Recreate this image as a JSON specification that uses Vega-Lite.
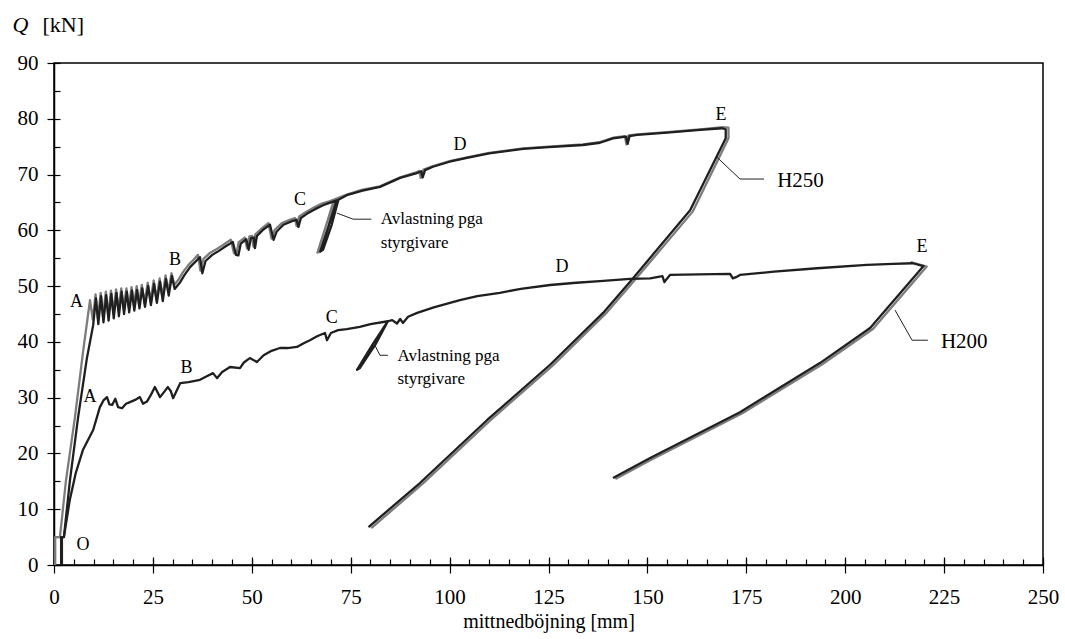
{
  "$schema": "https://vega.github.io/schema/vega-lite/v6.json",
  "width": 989,
  "height": 502,
  "autosize": {"type": "none"},
  "padding": {"left": 54, "top": 63, "right": 22, "bottom": 74},
  "background": "white",
  "config": {
    "view": {"stroke": "black", "strokeWidth": 1.5},
    "axis": {"grid": false, "domainColor": "black", "tickColor": "black", "labelColor": "black", "titleColor": "black", "labelFont": "Liberation Serif", "titleFont": "Liberation Serif", "titleFontWeight": "normal", "tickWidth": 1.2, "domainWidth": 1.5},
    "text": {"font": "Liberation Serif", "color": "black"}
  },
  "datasets": {
    "h250_dark": [
      {"i":1,"x":1.8,"y":0},{"i":2,"x":1.8,"y":5},{"i":3,"x":2.5,"y":5},{"i":4,"x":4,"y":15},{"i":5,"x":6.1,"y":26.5},{"i":6,"x":8.3,"y":37},{"i":7,"x":9.9,"y":43},
      {"i":8,"x":10.6,"y":47.8},{"i":9,"x":11.2,"y":43.2},{"i":10,"x":11.9,"y":48.2},{"i":11,"x":12.5,"y":43.5},{"i":12,"x":13.2,"y":48.4},{"i":13,"x":13.8,"y":43.8},{"i":14,"x":14.5,"y":48.6},{"i":15,"x":15.1,"y":44.2},{"i":16,"x":15.8,"y":48.8},{"i":17,"x":16.4,"y":44.6},{"i":18,"x":17.1,"y":49},{"i":19,"x":17.7,"y":45},{"i":20,"x":18.4,"y":49},{"i":21,"x":19,"y":45.3},{"i":22,"x":19.7,"y":49.2},{"i":23,"x":20.3,"y":45.6},{"i":24,"x":21,"y":49.3},{"i":25,"x":21.6,"y":46},{"i":26,"x":22.3,"y":49.6},{"i":27,"x":23,"y":46.3},{"i":28,"x":23.8,"y":50},{"i":29,"x":24.5,"y":46.6},{"i":30,"x":25.3,"y":50.4},{"i":31,"x":26,"y":47},{"i":32,"x":26.8,"y":50.8},{"i":33,"x":27.5,"y":47.3},{"i":34,"x":28.3,"y":51.3},{"i":35,"x":29,"y":48.3},{"i":36,"x":29.8,"y":51.8},{"i":37,"x":30.5,"y":49.5},
      {"i":38,"x":31.9,"y":50.7},{"i":39,"x":33,"y":52},{"i":40,"x":34.4,"y":53.4},{"i":41,"x":35.5,"y":54.2},{"i":42,"x":36.9,"y":55.2},{"i":43,"x":37.5,"y":52.3},{"i":44,"x":38.3,"y":54.5},{"i":45,"x":40,"y":55.6},{"i":46,"x":41.2,"y":56.1},{"i":47,"x":43.5,"y":57.2},{"i":48,"x":45.2,"y":57.9},{"i":49,"x":46,"y":55.6},{"i":50,"x":46.6,"y":55.5},{"i":51,"x":47.2,"y":57.6},{"i":52,"x":48.6,"y":58.4},{"i":53,"x":49.2,"y":56.5},{"i":54,"x":49.8,"y":58.6},{"i":55,"x":50.5,"y":58.7},{"i":56,"x":50.8,"y":56.8},{"i":57,"x":51.3,"y":59},{"i":58,"x":53,"y":60.2},{"i":59,"x":54.6,"y":61},{"i":60,"x":55.5,"y":58.3},{"i":61,"x":56.3,"y":59.8},{"i":62,"x":58,"y":61},{"i":63,"x":60,"y":61.6},{"i":64,"x":61.3,"y":61.9},{"i":65,"x":61.8,"y":60.6},{"i":66,"x":62.4,"y":62.2},{"i":67,"x":64,"y":63},{"i":68,"x":66,"y":63.8},{"i":69,"x":68,"y":64.5},{"i":70,"x":70,"y":65},{"i":71,"x":71.5,"y":65.4},
      {"i":72,"x":69.4,"y":60.7},{"i":73,"x":67.3,"y":56.2},{"i":74,"x":68,"y":56.5},{"i":75,"x":70.2,"y":61},{"i":76,"x":71.9,"y":65.5},
      {"i":77,"x":74,"y":66.3},{"i":78,"x":78,"y":67.1},{"i":79,"x":82.4,"y":67.8},{"i":80,"x":87.5,"y":69.4},{"i":81,"x":91.5,"y":70.2},{"i":82,"x":92.8,"y":70.6},{"i":83,"x":93.2,"y":69.5},{"i":84,"x":93.8,"y":70.8},{"i":85,"x":95.8,"y":71.4},{"i":86,"x":100,"y":72.3},{"i":87,"x":104.4,"y":73},{"i":88,"x":110,"y":73.8},{"i":89,"x":118.6,"y":74.6},{"i":90,"x":125,"y":74.9},{"i":91,"x":133.7,"y":75.3},{"i":92,"x":138,"y":75.7},{"i":93,"x":141.3,"y":76.5},{"i":94,"x":144.6,"y":76.8},{"i":95,"x":145,"y":75.5},{"i":96,"x":145.5,"y":76.9},{"i":97,"x":147.4,"y":77.1},{"i":98,"x":155,"y":77.5},{"i":99,"x":163.3,"y":78},{"i":100,"x":168.9,"y":78.3},{"i":101,"x":169.8,"y":78.1},
      {"i":102,"x":169.8,"y":76.5},{"i":103,"x":160.8,"y":63.6},{"i":104,"x":146,"y":51.1},{"i":105,"x":138.8,"y":45.2},{"i":106,"x":125.4,"y":35.9},{"i":107,"x":109.5,"y":26},{"i":108,"x":92.5,"y":14.7},{"i":109,"x":79.5,"y":6.8}
    ],
    "h250_gray": [
      {"i":1,"x":0.3,"y":0},{"i":2,"x":0.3,"y":5},{"i":3,"x":1.5,"y":5},{"i":4,"x":3,"y":15},{"i":5,"x":5.3,"y":26.5},{"i":6,"x":7.3,"y":38},{"i":7,"x":9.1,"y":47.5},
      {"i":8,"x":9.8,"y":44},{"i":9,"x":10.5,"y":48.5},{"i":10,"x":11.1,"y":44.2},{"i":11,"x":11.8,"y":48.8},{"i":12,"x":12.4,"y":44.5},{"i":13,"x":13.1,"y":49},{"i":14,"x":13.7,"y":44.8},{"i":15,"x":14.4,"y":49.2},{"i":16,"x":15,"y":45.2},{"i":17,"x":15.7,"y":49.4},{"i":18,"x":16.3,"y":45.6},{"i":19,"x":17,"y":49.6},{"i":20,"x":17.6,"y":46},{"i":21,"x":18.3,"y":49.6},{"i":22,"x":18.9,"y":46.2},{"i":23,"x":19.6,"y":49.8},{"i":24,"x":20.2,"y":46.5},{"i":25,"x":20.9,"y":50},{"i":26,"x":21.5,"y":46.8},{"i":27,"x":22.2,"y":50.2},{"i":28,"x":22.9,"y":47},{"i":29,"x":23.7,"y":50.6},{"i":30,"x":24.4,"y":47.3},{"i":31,"x":25.2,"y":51},{"i":32,"x":25.9,"y":47.6},{"i":33,"x":26.7,"y":51.4},{"i":34,"x":27.4,"y":48},{"i":35,"x":28.2,"y":51.9},{"i":36,"x":28.9,"y":49},{"i":37,"x":29.7,"y":52.3},{"i":38,"x":30.4,"y":50.2},
      {"i":39,"x":31.5,"y":51.2},{"i":40,"x":32.6,"y":52.5},{"i":41,"x":34,"y":53.8},{"i":42,"x":35.1,"y":54.6},{"i":43,"x":36.4,"y":55.6},{"i":44,"x":37,"y":52.8},{"i":45,"x":37.8,"y":54.9},{"i":46,"x":39.5,"y":56},{"i":47,"x":40.8,"y":56.5},{"i":48,"x":43,"y":57.5},{"i":49,"x":44.7,"y":58.3},{"i":50,"x":45.5,"y":55.9},{"i":51,"x":46.1,"y":55.8},{"i":52,"x":46.7,"y":57.9},{"i":53,"x":48.2,"y":58.7},{"i":54,"x":48.8,"y":56.8},{"i":55,"x":49.4,"y":58.9},{"i":56,"x":50.1,"y":59},{"i":57,"x":50.4,"y":57.1},{"i":58,"x":50.9,"y":59.3},{"i":59,"x":52.6,"y":60.4},{"i":60,"x":54.2,"y":61.3},{"i":61,"x":55,"y":58.5},{"i":62,"x":55.8,"y":60.1},{"i":63,"x":57.6,"y":61.3},{"i":64,"x":59.6,"y":61.9},{"i":65,"x":60.9,"y":62.2},{"i":66,"x":61.3,"y":60.8},{"i":67,"x":62,"y":62.5},{"i":68,"x":63.7,"y":63.3},{"i":69,"x":65.7,"y":64.1},{"i":70,"x":67.7,"y":64.8},{"i":71,"x":69.6,"y":65.2},{"i":72,"x":70.8,"y":65.5},
      {"i":73,"x":68.7,"y":60.7},{"i":74,"x":66.6,"y":56},{"i":75,"x":67.3,"y":56.2},{"i":76,"x":69.5,"y":60.9},{"i":77,"x":71.1,"y":65.6},
      {"i":78,"x":74,"y":66.4},{"i":79,"x":78,"y":67.3},{"i":80,"x":82.4,"y":67.9},{"i":81,"x":87.5,"y":69.5},{"i":82,"x":91.5,"y":70.4},{"i":83,"x":92.3,"y":70.6},{"i":84,"x":92.7,"y":69.4},{"i":85,"x":93.4,"y":70.9},{"i":86,"x":95.8,"y":71.5},{"i":87,"x":100,"y":72.4},{"i":88,"x":104.4,"y":73.1},{"i":89,"x":110,"y":73.9},{"i":90,"x":118.6,"y":74.7},{"i":91,"x":125,"y":75},{"i":92,"x":133.7,"y":75.4},{"i":93,"x":138,"y":75.8},{"i":94,"x":141.3,"y":76.6},{"i":95,"x":144.3,"y":76.9},{"i":96,"x":144.7,"y":75.4},{"i":97,"x":145.2,"y":77},{"i":98,"x":147.4,"y":77.2},{"i":99,"x":155,"y":77.6},{"i":100,"x":163.3,"y":78.1},{"i":101,"x":169,"y":78.5},{"i":102,"x":170.5,"y":78.4},
      {"i":103,"x":170.5,"y":76.5},{"i":104,"x":161.5,"y":63.4},{"i":105,"x":146.7,"y":51},{"i":106,"x":139.5,"y":45.1},{"i":107,"x":126.1,"y":35.8},{"i":108,"x":110.2,"y":25.9},{"i":109,"x":93.2,"y":14.6},{"i":110,"x":80.2,"y":6.6}
    ],
    "h200_dark": [
      {"i":1,"x":2,"y":0},{"i":2,"x":2,"y":5},{"i":3,"x":2.5,"y":5},{"i":4,"x":4,"y":11.7},{"i":5,"x":5.5,"y":16.5},{"i":6,"x":7.3,"y":20.6},{"i":7,"x":9.9,"y":24.2},{"i":8,"x":11.6,"y":28.3},{"i":9,"x":12.5,"y":29.5},{"i":10,"x":13.4,"y":30.1},{"i":11,"x":14,"y":28.8},{"i":12,"x":14.7,"y":28.7},{"i":13,"x":15.5,"y":29.8},{"i":14,"x":16.2,"y":28.3},{"i":15,"x":17.2,"y":28.1},{"i":16,"x":18.2,"y":28.9},{"i":17,"x":19.2,"y":29.2},{"i":18,"x":20.5,"y":29.6},{"i":19,"x":21.7,"y":30.1},{"i":20,"x":22.5,"y":28.9},{"i":21,"x":23.5,"y":29.3},{"i":22,"x":24.5,"y":30.5},{"i":23,"x":25.5,"y":31.9},{"i":24,"x":26.8,"y":30.1},{"i":25,"x":27.8,"y":31},{"i":26,"x":28.8,"y":31.9},{"i":27,"x":29.5,"y":31.2},{"i":28,"x":30.1,"y":29.9},{"i":29,"x":31.9,"y":32.6},{"i":30,"x":34,"y":32.8},{"i":31,"x":36.9,"y":33.2},{"i":32,"x":38.5,"y":33.8},{"i":33,"x":40.2,"y":34.4},{"i":34,"x":41.2,"y":33.5},{"i":35,"x":42.5,"y":34.6},{"i":36,"x":44.5,"y":35.5},{"i":37,"x":47,"y":35.3},{"i":38,"x":48,"y":36.3},{"i":39,"x":49.5,"y":37.1},{"i":40,"x":51.3,"y":36.4},{"i":41,"x":53,"y":37.6},{"i":42,"x":55,"y":38.4},{"i":43,"x":57.1,"y":38.9},{"i":44,"x":59,"y":38.9},{"i":45,"x":61.4,"y":39.1},{"i":46,"x":63,"y":39.7},{"i":47,"x":64.7,"y":40.3},{"i":48,"x":66.5,"y":41},{"i":49,"x":68.5,"y":41.6},{"i":50,"x":69,"y":40.3},{"i":51,"x":70,"y":41.6},{"i":52,"x":71.8,"y":42.1},{"i":53,"x":74,"y":42.3},{"i":54,"x":77.3,"y":42.7},{"i":55,"x":80,"y":43.2},{"i":56,"x":84.4,"y":43.7},
      {"i":57,"x":80.5,"y":39.5},{"i":58,"x":76.6,"y":35},{"i":59,"x":77.3,"y":35.3},{"i":60,"x":81.3,"y":39.6},{"i":61,"x":84.4,"y":43.7},
      {"i":62,"x":85.5,"y":43.9},{"i":63,"x":86.7,"y":43.3},{"i":64,"x":87.5,"y":44.1},{"i":65,"x":88.2,"y":43.4},{"i":66,"x":89.5,"y":44.5},{"i":67,"x":91.8,"y":45.2},{"i":68,"x":96,"y":46.2},{"i":69,"x":102.6,"y":47.5},{"i":70,"x":107,"y":48.2},{"i":71,"x":112.7,"y":48.8},{"i":72,"x":118,"y":49.5},{"i":73,"x":125.4,"y":50.2},{"i":74,"x":132,"y":50.6},{"i":75,"x":138,"y":50.9},{"i":76,"x":145.6,"y":51.3},{"i":77,"x":150.7,"y":51.4},{"i":78,"x":153.8,"y":51.8},{"i":79,"x":154.3,"y":50.7},{"i":80,"x":154.8,"y":51.2},{"i":81,"x":155.7,"y":52},{"i":82,"x":163,"y":52.1},{"i":83,"x":170.9,"y":52.2},{"i":84,"x":171.6,"y":51.4},{"i":85,"x":172.4,"y":51.6},{"i":86,"x":173.4,"y":52},{"i":87,"x":182,"y":52.6},{"i":88,"x":192.9,"y":53.2},{"i":89,"x":205.5,"y":53.8},{"i":90,"x":212,"y":54},{"i":91,"x":217.1,"y":54.1},{"i":92,"x":219.8,"y":53.6},
      {"i":93,"x":206.3,"y":42.5},{"i":94,"x":193.6,"y":36.2},{"i":95,"x":173.4,"y":27.4},{"i":96,"x":150.7,"y":19.2},{"i":97,"x":141.3,"y":15.6}
    ],
    "h200_gray": [
      {"i":1,"x":216.5,"y":54.3},{"i":2,"x":220.6,"y":53.5},{"i":3,"x":207,"y":42.3},{"i":4,"x":194.2,"y":36},{"i":5,"x":174,"y":27.2},{"i":6,"x":151.3,"y":19},{"i":7,"x":141.9,"y":15.4}
    ],
    "leaders": [
      {"id":"H250","i":1,"x":167.6,"y":73.1},{"id":"H250","i":2,"x":173.4,"y":69.2},{"id":"H250","i":3,"x":179.5,"y":69.2},
      {"id":"H200","i":1,"x":212.6,"y":45.7},{"id":"H200","i":2,"x":216.9,"y":40.3},{"id":"H200","i":3,"x":220.9,"y":40.3},
      {"id":"avl250","i":1,"x":71.5,"y":63.1},{"id":"avl250","i":2,"x":75.6,"y":62},{"id":"avl250","i":3,"x":80.2,"y":62},
      {"id":"avl200","i":1,"x":81.1,"y":39.4},{"id":"avl200","i":2,"x":82.4,"y":37.6},{"id":"avl200","i":3,"x":84.4,"y":37.6}
    ],
    "notes": [
      {"kind":"letter","text":"A","x":5.7,"y":47.2},
      {"kind":"letter","text":"B","x":30.6,"y":54.7},
      {"kind":"letter","text":"C","x":62.2,"y":65.4},
      {"kind":"letter","text":"D","x":102.6,"y":75.3},
      {"kind":"letter","text":"E","x":168.6,"y":80.7},
      {"kind":"letter","text":"A","x":9.1,"y":30.2},
      {"kind":"letter","text":"B","x":33.5,"y":35.3},
      {"kind":"letter","text":"C","x":70.2,"y":44.2},
      {"kind":"letter","text":"D","x":128.4,"y":53.4},
      {"kind":"letter","text":"E","x":219.4,"y":57},
      {"kind":"letter","text":"O","x":7.3,"y":3.6},
      {"kind":"tag","text":"H250","x":182.8,"y":68.9},
      {"kind":"tag","text":"H200","x":224.2,"y":40},
      {"kind":"note","text":"Avlastning pga","x":82.6,"y":62},
      {"kind":"note","text":"styrgivare","x":82.6,"y":57.7},
      {"kind":"note","text":"Avlastning pga","x":86.8,"y":37.4},
      {"kind":"note","text":"styrgivare","x":86.8,"y":33.3}
    ]
  },
  "resolve": {"axis": {"x": "independent", "y": "independent"}},
  "layer": [
    {
      "data": {"name": "h250_gray"},
      "mark": {"type": "line", "color": "#7c7c7c", "strokeWidth": 2.3, "strokeJoin": "round"},
      "encoding": {
        "x": {"field": "x", "type": "quantitative", "scale": {"domain": [0, 250], "nice": false, "zero": false},
          "axis": {"orient": "bottom", "values": [0,25,50,75,100,125,150,175,200,225,250], "tickSize": 8, "labelFont": "Liberation Serif", "labelFontSize": 21, "labelPadding": 13, "labelFlush": false, "title": "mittnedböjning [mm]", "titleFont": "Liberation Serif", "titleFontSize": 20, "titlePadding": 4}},
        "y": {"field": "y", "type": "quantitative", "scale": {"domain": [0, 90], "nice": false, "zero": false},
          "axis": {"orient": "left", "values": [0,10,20,30,40,50,60,70,80,90], "tickSize": 7, "labelFont": "Liberation Serif", "labelFontSize": 21, "labelPadding": 9, "labelFlush": false, "title": "Q", "titleFont": "Liberation Serif", "titleFontStyle": "italic", "titleFontSize": 22, "titleAngle": 0, "titleX": -42, "titleY": -32, "titleAlign": "left", "titleBaseline": "alphabetic"}},
        "order": {"field": "i", "type": "quantitative"}
      }
    },
    {
      "data": {"name": "h200_gray"},
      "mark": {"type": "line", "color": "#7c7c7c", "strokeWidth": 2.3, "strokeJoin": "round"},
      "encoding": {
        "x": {"field": "x", "type": "quantitative", "scale": {"domain": [0, 250], "nice": false, "zero": false},
          "axis": {"orient": "bottom", "offset": -6, "values": [0,5,10,15,20,25,30,35,40,45,50,55,60,65,70,75,80,85,90,95,100,105,110,115,120,125,130,135,140,145,150,155,160,165,170,175,180,185,190,195,200,205,210,215,220,225,230,235,240,245,250], "tickSize": 6, "labels": false, "domain": false, "title": null}},
        "y": {"field": "y", "type": "quantitative", "scale": {"domain": [0, 90], "nice": false, "zero": false},
          "axis": {"orient": "left", "offset": -6, "values": [0,5,10,15,20,25,30,35,40,45,50,55,60,65,70,75,80,85,90], "tickSize": 6, "labels": false, "domain": false, "title": "[kN]", "titleFont": "Liberation Serif", "titleFontSize": 22, "titleAngle": 0, "titleX": -18, "titleY": -32, "titleAlign": "left", "titleBaseline": "alphabetic"}},
        "order": {"field": "i", "type": "quantitative"}
      }
    },
    {
      "data": {"name": "h250_dark"},
      "mark": {"type": "line", "color": "#1f1f1f", "strokeWidth": 2.3, "strokeJoin": "round"},
      "encoding": {
        "x": {"field": "x", "type": "quantitative", "scale": {"domain": [0, 250], "nice": false, "zero": false},
          "axis": {"orient": "bottom", "offset": -8, "values": [0,25,50,75,100,125,150,175,200,225,250], "tickSize": 8, "labels": false, "domain": false, "title": null}},
        "y": {"field": "y", "type": "quantitative", "scale": {"domain": [0, 90], "nice": false, "zero": false}, "axis": null},
        "order": {"field": "i", "type": "quantitative"}
      }
    },
    {
      "data": {"name": "h200_dark"},
      "mark": {"type": "line", "color": "#1f1f1f", "strokeWidth": 2.3, "strokeJoin": "round"},
      "encoding": {
        "x": {"field": "x", "type": "quantitative", "scale": {"domain": [0, 250], "nice": false, "zero": false}, "axis": null},
        "y": {"field": "y", "type": "quantitative", "scale": {"domain": [0, 90], "nice": false, "zero": false}, "axis": null},
        "order": {"field": "i", "type": "quantitative"}
      }
    },
    {
      "data": {"name": "leaders"},
      "mark": {"type": "line", "color": "#222222", "strokeWidth": 1},
      "encoding": {
        "x": {"field": "x", "type": "quantitative", "scale": {"domain": [0, 250], "nice": false, "zero": false}, "axis": null},
        "y": {"field": "y", "type": "quantitative", "scale": {"domain": [0, 90], "nice": false, "zero": false}, "axis": null},
        "detail": {"field": "id"},
        "order": {"field": "i", "type": "quantitative"}
      }
    },
    {
      "data": {"name": "notes"},
      "transform": [{"filter": "datum.kind === 'letter'"}],
      "mark": {"type": "text", "fontSize": 18, "align": "center", "baseline": "middle"},
      "encoding": {
        "x": {"field": "x", "type": "quantitative", "scale": {"domain": [0, 250], "nice": false, "zero": false}, "axis": null},
        "y": {"field": "y", "type": "quantitative", "scale": {"domain": [0, 90], "nice": false, "zero": false}, "axis": null},
        "text": {"field": "text"}
      }
    },
    {
      "data": {"name": "notes"},
      "transform": [{"filter": "datum.kind === 'tag'"}],
      "mark": {"type": "text", "fontSize": 21, "align": "left", "baseline": "middle"},
      "encoding": {
        "x": {"field": "x", "type": "quantitative", "scale": {"domain": [0, 250], "nice": false, "zero": false}, "axis": null},
        "y": {"field": "y", "type": "quantitative", "scale": {"domain": [0, 90], "nice": false, "zero": false}, "axis": null},
        "text": {"field": "text"}
      }
    },
    {
      "data": {"name": "notes"},
      "transform": [{"filter": "datum.kind === 'note'"}],
      "mark": {"type": "text", "fontSize": 17, "align": "left", "baseline": "middle"},
      "encoding": {
        "x": {"field": "x", "type": "quantitative", "scale": {"domain": [0, 250], "nice": false, "zero": false}, "axis": null},
        "y": {"field": "y", "type": "quantitative", "scale": {"domain": [0, 90], "nice": false, "zero": false}, "axis": null},
        "text": {"field": "text"}
      }
    }
  ]
}
